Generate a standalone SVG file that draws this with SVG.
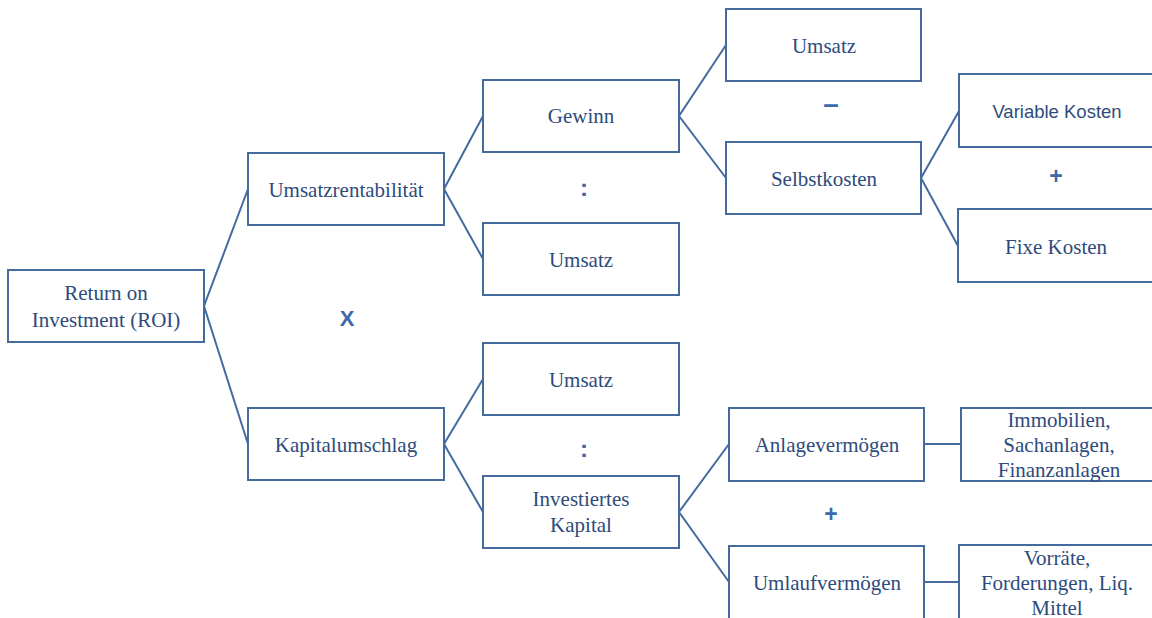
<svg xmlns="http://www.w3.org/2000/svg" width="1152" height="618" viewBox="0 0 1152 618">
<style>
.b{fill:#fff;stroke:#456a9e;stroke-width:2}
.t{font-family:"Liberation Serif","Times New Roman",serif;font-size:21px;fill:#2e4b7c;text-anchor:middle}
.s{font-family:"Liberation Sans",Arial,sans-serif;font-size:18.5px;fill:#2e4b7c;text-anchor:middle}
.o{font-family:"Liberation Sans",Arial,sans-serif;font-weight:bold;fill:#3d68ab;text-anchor:middle}
.c{fill:none;stroke:#456a9e;stroke-width:2}
</style>
<rect width="1152" height="618" fill="#fff"/>
<g id="connectors">
<polyline class="c" points="248,189 204,306 248,444"/>
<polyline class="c" points="483,116 444,189 483,259"/>
<polyline class="c" points="483,379 444,444 483,512"/>
<polyline class="c" points="726,45 679,116 726,178"/>
<polyline class="c" points="959,111 921,178 958,246"/>
<polyline class="c" points="729,444 679,512 729,582"/>
<line class="c" x1="924" y1="444" x2="961" y2="444"/>
<line class="c" x1="924" y1="582" x2="959" y2="582"/>
</g>
<g id="roi"><rect class="b" x="8" y="270" width="196" height="72"/><text class="t" x="106" y="300">Return on</text><text class="t" x="106" y="327">Investment  (ROI)</text></g>
<g id="umsatzrentabilitaet"><rect class="b" x="248" y="153" width="196" height="72"/><text class="t" x="346" y="197">Umsatzrentabilität</text></g>
<g id="kapitalumschlag"><rect class="b" x="248" y="408" width="196" height="72"/><text class="t" x="346" y="452">Kapitalumschlag</text></g>
<g id="gewinn"><rect class="b" x="483" y="80" width="196" height="72"/><text class="t" x="581" y="123">Gewinn</text></g>
<g id="umsatz2"><rect class="b" x="483" y="223" width="196" height="72"/><text class="t" x="581" y="267">Umsatz</text></g>
<g id="umsatz3"><rect class="b" x="483" y="343" width="196" height="72"/><text class="t" x="581" y="387">Umsatz</text></g>
<g id="investiertes-kapital"><rect class="b" x="483" y="476" width="196" height="72"/><text class="t" x="581" y="506">Investiertes</text><text class="t" x="581" y="532">Kapital</text></g>
<g id="umsatz1"><rect class="b" x="726" y="9" width="195" height="72"/><text class="t" x="824" y="53">Umsatz</text></g>
<g id="selbstkosten"><rect class="b" x="726" y="142" width="195" height="72"/><text class="t" x="824" y="186">Selbstkosten</text></g>
<g id="variable-kosten"><rect class="b" x="959" y="74" width="200" height="73"/><text class="s" x="1057" y="118">Variable Kosten</text></g>
<g id="fixe-kosten"><rect class="b" x="958" y="209" width="200" height="73"/><text class="t" x="1056" y="254">Fixe Kosten</text></g>
<g id="anlagevermoegen"><rect class="b" x="729" y="408" width="195" height="73"/><text class="t" x="827" y="452">Anlagevermögen</text></g>
<g id="umlaufvermoegen"><rect class="b" x="729" y="546" width="195" height="80"/><text class="t" x="827" y="590">Umlaufvermögen</text></g>
<g id="immobilien"><rect class="b" x="961" y="408" width="200" height="73"/><text class="t" x="1059" y="427">Immobilien,</text><text class="t" x="1059" y="452">Sachanlagen,</text><text class="t" x="1059" y="477">Finanzanlagen</text></g>
<g id="vorraete"><rect class="b" x="959" y="545" width="200" height="80"/><text class="t" x="1057" y="565">Vorräte,</text><text class="t" x="1057" y="590">Forderungen, Liq.</text><text class="t" x="1057" y="615">Mittel</text></g>
<g id="operators">
<text class="o" x="347" y="326" font-size="22">X</text>
<text class="o" x="584" y="196" font-size="24">:</text>
<text class="o" x="584" y="457" font-size="24">:</text>
<text class="o" x="831" y="113" font-size="28">–</text>
<text class="o" x="1056" y="184" font-size="23">+</text>
<text class="o" x="831" y="522" font-size="23">+</text>
</g>
</svg>
